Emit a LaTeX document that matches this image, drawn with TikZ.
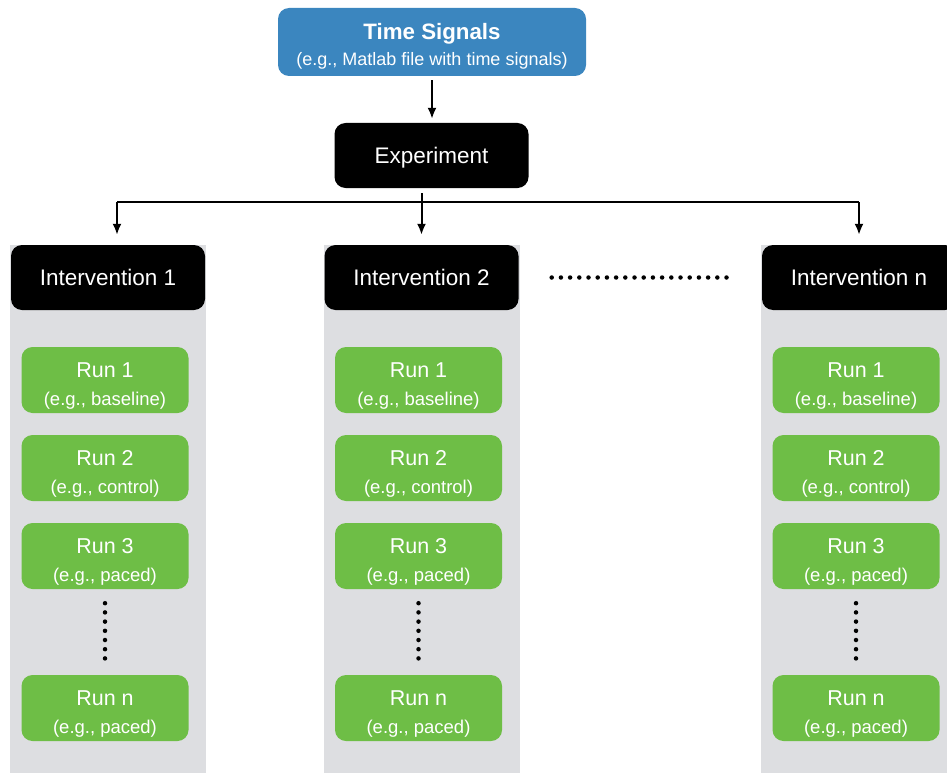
\documentclass[tikz,border=0pt]{standalone}
\usepackage{fontspec}
\setmainfont{Liberation Sans}
\usetikzlibrary{arrows.meta}

\definecolor{sigblue}{HTML}{3B86BF}
\definecolor{rungreen}{HTML}{6EBE46}
\definecolor{colgray}{HTML}{DDDEE1}

\newcommand{\subfont}{\fontsize{18.5}{21}\selectfont}

\tikzset{
  box/.style={rounded corners=11pt, text=white, align=center, inner sep=0pt},
  headbox/.style={box, fill=black, minimum width=194pt, minimum height=65pt, text depth=0pt, font=\fontsize{22.5}{26}\selectfont},
  runbox/.style={box, fill=rungreen, minimum width=167pt, minimum height=66pt, font=\fontsize{21.5}{25}\selectfont},
  arr/.style={-{Latex[length=11pt,width=9pt]}, line width=2pt},
  dotline/.style={line width=4.5pt, line cap=round, dash pattern=on 0pt off 9.2pt},
}

\begin{document}
\begin{tikzpicture}[x=1pt,y=-1pt]
    \useasboundingbox (0,0) rectangle (947,773);

    % Source and experiment
    \node[box, fill=sigblue, minimum width=308pt, minimum height=68pt] (ts) at (432,42)
        {\rule{0pt}{24pt}{\fontsize{22.3}{25}\selectfont\bfseries Time Signals}\\[7pt]{\fontsize{18}{20}\selectfont (e.g., Matlab file with time signals)}};
    \node[headbox] (expt) at (431.5,155.5) {Experiment};
    \draw[arr, shorten <=4pt, shorten >=4pt] (ts.south) -- (ts.south |- expt.north);

    % Interventions with their runs
    \foreach \cx/\k/\lab in {108/1/1, 421.5/2/2, 859/3/n} {
        \fill[colgray] (\cx-98,245) rectangle (\cx+98,773);
        \node[headbox] (int\k) at (\cx,277.5) {Intervention \lab};
        \foreach \r/\txt/\ry in {1/baseline/380, 2/control/468, 3/paced/556, n/paced/708}
            \node[runbox] (run\k\r) at (\cx-3,\ry) {\rule{0pt}{26pt}Run \r\\[3pt]{\subfont (e.g., \txt)}};
        \draw[dotline, shorten <=14pt, shorten >=8pt] (run\k3.south) -- (run\k n.north);
    }

    % Branches from the experiment
    \coordinate (bl) at (117,202);
    \coordinate (br) at (859,202);
    \draw[line width=2pt] (bl) -- (br);
    \draw[arr, shorten >=10pt] (bl) -- (bl |- int1.north);
    \draw[arr, shorten <=5pt, shorten >=10pt] (expt.south -| int2.north) -- (int2.north);
    \draw[arr, shorten >=10pt] (br) -- (int3.north);

    % More interventions
    \draw[dotline, shorten <=33pt, shorten >=30pt] (int2.east) -- (int3.west);
\end{tikzpicture}
\end{document}
